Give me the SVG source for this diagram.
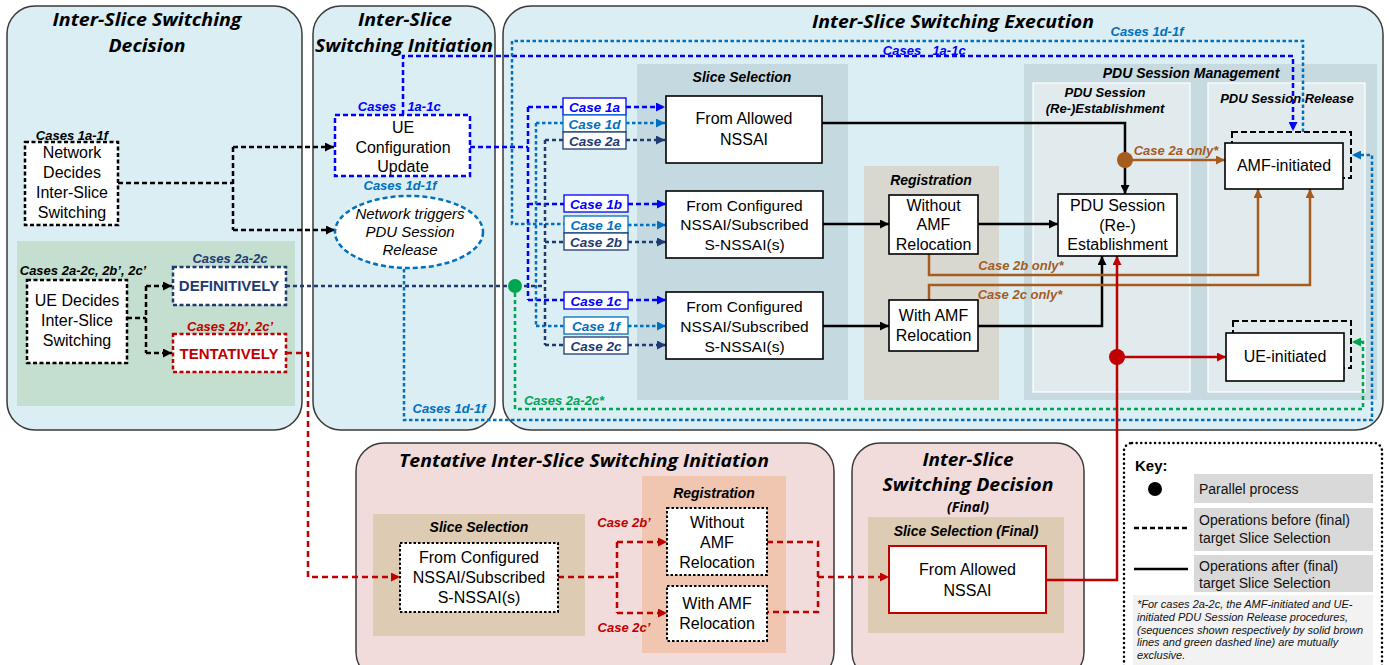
<svg xmlns="http://www.w3.org/2000/svg" width="1390" height="665" viewBox="0 0 1390 665">
<defs>
<style>
.panel{fill:#DAEEF3;stroke:#3A3A3A;stroke-width:1.5}
.pink{fill:#F2DCDB;stroke:#3A3A3A;stroke-width:1.5}
.title{font-family:"Open Sans","Liberation Sans",sans-serif;font-weight:bold;font-style:italic;font-size:17.5px;text-anchor:middle;fill:#000}
.sub{font-family:"Liberation Sans",Arial,sans-serif;font-weight:bold;font-style:italic;font-size:14px;text-anchor:middle;fill:#000}
.sub13{font-family:"Liberation Sans",Arial,sans-serif;font-weight:bold;font-style:italic;font-size:13px;text-anchor:middle;fill:#000}
.body{font-family:"Liberation Sans",Arial,sans-serif;font-size:16px;text-anchor:middle;fill:#000}
.lbl{font-family:"Liberation Sans",Arial,sans-serif;font-weight:bold;font-style:italic;font-size:13px;text-anchor:middle}
.case{font-family:"Liberation Sans",Arial,sans-serif;font-weight:bold;font-style:italic;font-size:13.5px;text-anchor:middle}
.key{font-family:"Liberation Sans",Arial,sans-serif;font-size:14px;fill:#111}
.note{font-family:"Liberation Sans",Arial,sans-serif;font-style:italic;font-size:11px;fill:#111}
.box{fill:#fff;stroke:#000;stroke-width:1.6}
.dbox{fill:#fff;stroke:#000;stroke-width:2;stroke-dasharray:2.5 2}
.ln{fill:none;stroke-width:2.5}
.k{stroke:#000}
.kd{stroke:#000;stroke-dasharray:5 3}
.b{stroke:#0000FF;stroke-dasharray:5 3}
.m{stroke:#0070C0;stroke-dasharray:3.5 2.5}
.n{stroke:#203A72;stroke-dasharray:4 3}
.r{stroke:#C00000;stroke-dasharray:6 4}
.rs{stroke:#C00000}
.br{stroke:#A65B1F}
.g{stroke:#00A550;stroke-dasharray:4 3}
</style>
<marker id="ak" viewBox="0 0 10 10" refX="10" refY="5" markerWidth="10" markerHeight="9" markerUnits="userSpaceOnUse" orient="auto"><path d="M0,0L10,5L0,10z" fill="#000"/></marker>
<marker id="ab" viewBox="0 0 10 10" refX="10" refY="5" markerWidth="10" markerHeight="9" markerUnits="userSpaceOnUse" orient="auto"><path d="M0,0L10,5L0,10z" fill="#0000FF"/></marker>
<marker id="am" viewBox="0 0 10 10" refX="10" refY="5" markerWidth="10" markerHeight="9" markerUnits="userSpaceOnUse" orient="auto"><path d="M0,0L10,5L0,10z" fill="#0070C0"/></marker>
<marker id="an" viewBox="0 0 10 10" refX="10" refY="5" markerWidth="10" markerHeight="9" markerUnits="userSpaceOnUse" orient="auto"><path d="M0,0L10,5L0,10z" fill="#203A72"/></marker>
<marker id="ar" viewBox="0 0 10 10" refX="10" refY="5" markerWidth="10" markerHeight="9" markerUnits="userSpaceOnUse" orient="auto"><path d="M0,0L10,5L0,10z" fill="#C00000"/></marker>
<marker id="abr" viewBox="0 0 10 10" refX="10" refY="5" markerWidth="10" markerHeight="9" markerUnits="userSpaceOnUse" orient="auto"><path d="M0,0L10,5L0,10z" fill="#A65B1F"/></marker>
<marker id="ag" viewBox="0 0 10 10" refX="10" refY="5" markerWidth="10" markerHeight="9" markerUnits="userSpaceOnUse" orient="auto"><path d="M0,0L10,5L0,10z" fill="#00A550"/></marker>
</defs>
<rect width="1390" height="665" fill="#fff"/>

<!-- Panels -->
<g id="panel-decision">
<rect class="panel" x="7" y="6" width="295" height="424" rx="28"/>
<text class="title" x="147" y="26" textLength="189" lengthAdjust="spacingAndGlyphs">Inter-Slice Switching</text>
<text class="title" x="147" y="52" textLength="77" lengthAdjust="spacingAndGlyphs">Decision</text>
<rect x="17" y="241" width="278" height="165" fill="#C4DFCF"/>
</g>
<g id="panel-initiation">
<rect class="panel" x="313" y="6" width="182" height="424" rx="28"/>
<text class="title" x="405" y="26" textLength="94" lengthAdjust="spacingAndGlyphs">Inter-Slice</text>
<text class="title" x="404" y="52" textLength="178" lengthAdjust="spacingAndGlyphs">Switching Initiation</text>
</g>
<g id="panel-execution">
<rect class="panel" x="503" y="6" width="880" height="424" rx="28"/>
<text class="title" x="953" y="28" textLength="282" lengthAdjust="spacingAndGlyphs">Inter-Slice Switching Execution</text>
<rect x="637" y="64" width="211" height="336" fill="#C5D9E0"/>
<text class="sub" x="742" y="82">Slice Selection</text>
<rect x="864" y="166" width="135" height="234" fill="#D9D8D0"/>
<text class="sub" x="931" y="185">Registration</text>
<rect x="1024" y="64" width="353" height="336" fill="#C6DAE0"/>
<text class="sub" x="1191" y="78">PDU Session Management</text>
<rect x="1033" y="83" width="157" height="309" fill="#E1EBEE" stroke="#fff" stroke-width="1.2"/>
<text class="sub13" x="1105" y="97">PDU Session</text>
<text class="sub13" x="1105" y="113">(Re-)Establishment</text>
<rect x="1208" y="83" width="157" height="309" fill="#E1EBEE" stroke="#fff" stroke-width="1.2"/>
<text class="sub13" x="1287" y="103">PDU Session Release</text>
</g>
<g id="panel-tentative">
<rect class="pink" x="356" y="443" width="478" height="237" rx="28"/>
<text class="title" x="584" y="467" textLength="370" lengthAdjust="spacingAndGlyphs">Tentative Inter-Slice Switching Initiation</text>
<rect x="373" y="514" width="212" height="122" fill="#DDCBB3"/>
<text class="sub" x="479" y="532">Slice Selection</text>
<rect x="642" y="476" width="144" height="177" fill="#F0C6B0"/>
<text class="sub" x="714" y="498">Registration</text>
</g>
<g id="panel-final">
<rect class="pink" x="852" y="443" width="232" height="237" rx="28"/>
<text class="title" x="968" y="466" textLength="91" lengthAdjust="spacingAndGlyphs">Inter-Slice</text>
<text class="title" x="968" y="491" textLength="171" lengthAdjust="spacingAndGlyphs">Switching Decision</text>
<text class="title" x="968" y="512" style="font-size:14px" textLength="42" lengthAdjust="spacingAndGlyphs">(Final)</text>
<rect x="868" y="517" width="196" height="116" fill="#DDCBB3"/>
<text class="sub" x="966" y="536">Slice Selection (Final)</text>
</g>

<!-- Connectors -->
<g id="connectors">
<path class="ln kd" d="M118,183H233M233,147V230"/>
<path class="ln kd" d="M233,147H334" marker-end="url(#ak)"/>
<path class="ln kd" d="M233,230H335" marker-end="url(#ak)"/>
<path class="ln kd" d="M127,318H146M146,286V353"/>
<path class="ln kd" d="M146,286H172" marker-end="url(#ak)"/>
<path class="ln kd" d="M146,353H172" marker-end="url(#ak)"/>
<path class="ln b" d="M403,115V56H1293V131" marker-end="url(#ab)"/>
<path class="ln b" d="M470,147H528M528,107V300M528,107H563M528,204H564M528,300H564"/>
<path class="ln m" d="M1303,132V41H512V224H564"/>
<path class="ln m" d="M536,123V326M536,123H563M536,326H564"/>
<path class="ln m" d="M404,269V420H1372V155H1352" marker-end="url(#am)"/>
<path class="ln n" d="M286,286H545M545,140V345M545,140H563M545,242H564M545,345H564"/>
<path class="ln g" d="M515,286V409H1363V342H1352" marker-end="url(#ag)"/>
<circle cx="515" cy="286" r="7" fill="#00A550"/>
<path class="ln b" d="M626,107H665" marker-end="url(#ab)"/>
<path class="ln m" d="M626,123H665" marker-end="url(#am)"/>
<path class="ln n" d="M626,140H665" marker-end="url(#an)"/>
<path class="ln b" d="M628,204H666" marker-end="url(#ab)"/>
<path class="ln m" d="M628,225H666" marker-end="url(#am)"/>
<path class="ln n" d="M628,242H666" marker-end="url(#an)"/>
<path class="ln b" d="M628,300H666" marker-end="url(#ab)"/>
<path class="ln m" d="M628,326H666" marker-end="url(#am)"/>
<path class="ln n" d="M628,345H666" marker-end="url(#an)"/>
<path class="ln k" d="M822,123H1125V194" marker-end="url(#ak)"/>
<path class="ln k" d="M823,224H889" marker-end="url(#ak)"/>
<path class="ln k" d="M823,326H889" marker-end="url(#ak)"/>
<path class="ln k" d="M978,224H1058" marker-end="url(#ak)"/>
<path class="ln k" d="M978,326H1102V256" marker-end="url(#ak)"/>
<path class="ln br" d="M1125,160H1225" marker-end="url(#abr)"/>
<circle cx="1125" cy="160" r="8" fill="#A65B1F"/>
<path class="ln br" d="M929,254V275H1258V189" marker-end="url(#abr)"/>
<path class="ln br" d="M929,300V285H1310V189" marker-end="url(#abr)"/>
<path class="ln r" d="M286,353H308V577H400" marker-end="url(#ar)"/>
<path class="ln r" d="M558,577H617M617,542V613"/>
<path class="ln r" d="M617,542H667" marker-end="url(#ar)"/>
<path class="ln r" d="M617,613H667" marker-end="url(#ar)"/>
<path class="ln r" d="M767,542H818V612H767M818,577H889" marker-end="url(#ar)"/>
<path class="ln rs" d="M1046,580H1117V256" marker-end="url(#ar)"/>
<path class="ln rs" d="M1117,357H1226" marker-end="url(#ar)"/>
<circle cx="1117" cy="357" r="8" fill="#C00000"/>
<text class="lbl" x="377" y="111" fill="#0000FF">Cases</text>
<text class="lbl" x="424" y="111" fill="#0000FF">1a-1c</text>
<text class="lbl" x="902" y="55" fill="#0000FF">Cases</text>
<text class="lbl" x="949" y="55" fill="#0000FF">1a-1c</text>
<text class="lbl" x="400" y="190" fill="#0070C0">Cases 1d-1f</text>
<text class="lbl" x="1147" y="36" fill="#0070C0">Cases 1d-1f</text>
<text class="lbl" x="449" y="413" fill="#0070C0">Cases 1d-1f</text>
<text class="lbl" x="564" y="405" fill="#00A550">Cases 2a-2c*</text>
<text class="lbl" x="1176" y="155" fill="#A65B1F">Case 2a only*</text>
<text class="lbl" x="1021" y="270" fill="#A65B1F">Case 2b only*</text>
<text class="lbl" x="1020" y="299" fill="#A65B1F">Case 2c only*</text>
<text class="lbl" x="624" y="527" fill="#C00000">Case 2b’</text>
<text class="lbl" x="624" y="632" fill="#C00000">Case 2c’</text>
</g>

<!-- Nodes -->
<g id="network-decides">
<text class="lbl" x="72" y="140" fill="#000">Cases 1a-1f</text>
<rect x="25" y="142" width="93" height="83" fill="#fff" stroke="#000" stroke-width="2.5" stroke-dasharray="4 2.5"/>
<text class="body" x="72" y="158">Network</text>
<text class="body" x="72" y="178">Decides</text>
<text class="body" x="72" y="198">Inter-Slice</text>
<text class="body" x="72" y="218">Switching</text>
</g>
<g id="ue-decides">
<text class="lbl" x="83" y="275" fill="#000">Cases 2a-2c, 2b’, 2c’</text>
<rect x="27" y="280" width="100" height="83" fill="#fff" stroke="#000" stroke-width="2.5" stroke-dasharray="4 2.5"/>
<text class="body" x="77" y="306">UE Decides</text>
<text class="body" x="77" y="326">Inter-Slice</text>
<text class="body" x="77" y="346">Switching</text>
</g>
<g id="definitively">
<text class="lbl" x="230" y="263" fill="#203A72">Cases 2a-2c</text>
<rect x="173" y="267" width="113" height="38" fill="#fff" stroke="#203A72" stroke-width="2.5" stroke-dasharray="4 2.5"/>
<text x="229" y="291" style="font-family:'Liberation Sans',Arial,sans-serif;font-weight:bold;font-size:15px;text-anchor:middle" fill="#203A72">DEFINITIVELY</text>
</g>
<g id="tentatively">
<text class="lbl" x="230" y="331" fill="#C00000">Cases 2b’, 2c’</text>
<rect x="173" y="334" width="113" height="38" fill="#fff" stroke="#C00000" stroke-width="2.5" stroke-dasharray="4 2.5"/>
<text x="229" y="359" style="font-family:'Liberation Sans',Arial,sans-serif;font-weight:bold;font-size:15px;text-anchor:middle" fill="#C00000">TENTATIVELY</text>
</g>
<g id="ue-config-update">
<rect x="335" y="115" width="135" height="61" fill="#fff" stroke="#0000FF" stroke-width="2.5" stroke-dasharray="5 3"/>
<text class="body" x="403" y="133" fill="#0000FF">UE</text>
<text class="body" x="403" y="153" fill="#0000FF">Configuration</text>
<text class="body" x="403" y="172" fill="#0000FF">Update</text>
</g>
<g id="nw-triggers-release">
<ellipse cx="409" cy="232" rx="74" ry="36" fill="#fff" stroke="#0070C0" stroke-width="2.5" stroke-dasharray="5 3"/>
<text class="body" x="410" y="219" style="font-style:italic;font-size:15px" fill="#0070C0">Network triggers</text>
<text class="body" x="410" y="237" style="font-style:italic;font-size:15px" fill="#0070C0">PDU Session</text>
<text class="body" x="410" y="255" style="font-style:italic;font-size:15px" fill="#0070C0">Release</text>
</g>
<g id="case-labels">
<rect x="563" y="98" width="63" height="17" fill="#fff" stroke="#0000FF" stroke-width="1.3"/>
<text class="case" x="594.5" y="111.5" fill="#0000FF">Case 1a</text>
<rect x="563" y="115" width="63" height="17" fill="#fff" stroke="#0070C0" stroke-width="1.3"/>
<text class="case" x="594.5" y="128.5" fill="#0070C0">Case 1d</text>
<rect x="563" y="132" width="63" height="17" fill="#fff" stroke="#203A72" stroke-width="1.3"/>
<text class="case" x="594.5" y="145.5" fill="#203A72">Case 2a</text>
<rect x="564" y="195" width="64" height="17" fill="#fff" stroke="#0000FF" stroke-width="1.3"/>
<text class="case" x="596" y="208.5" fill="#0000FF">Case 1b</text>
<rect x="564" y="216" width="64" height="17" fill="#fff" stroke="#0070C0" stroke-width="1.3"/>
<text class="case" x="596" y="229.5" fill="#0070C0">Case 1e</text>
<rect x="564" y="233" width="64" height="17" fill="#fff" stroke="#203A72" stroke-width="1.3"/>
<text class="case" x="596" y="246.5" fill="#203A72">Case 2b</text>
<rect x="564" y="292" width="64" height="17" fill="#fff" stroke="#0000FF" stroke-width="1.3"/>
<text class="case" x="596" y="305.5" fill="#0000FF">Case 1c</text>
<rect x="564" y="317" width="64" height="17" fill="#fff" stroke="#0070C0" stroke-width="1.3"/>
<text class="case" x="596" y="330.5" fill="#0070C0">Case 1f</text>
<rect x="564" y="337" width="64" height="17" fill="#fff" stroke="#203A72" stroke-width="1.3"/>
<text class="case" x="596" y="350.5" fill="#203A72">Case 2c</text>
</g>
<g id="from-allowed">
<rect class="box" x="666" y="96" width="156" height="67"/>
<text class="body" x="744" y="124">From Allowed</text>
<text class="body" x="744" y="145">NSSAI</text>
</g>
<g id="from-configured-1">
<rect class="box" x="666" y="191" width="157" height="67"/>
<text class="body" x="744.5" y="211" style="font-size:15.5px">From Configured</text>
<text class="body" x="744.5" y="230" style="font-size:15.5px">NSSAI/Subscribed</text>
<text class="body" x="744.5" y="250" style="font-size:15.5px">S-NSSAI(s)</text>
</g>
<g id="from-configured-2">
<rect class="box" x="666" y="292" width="157" height="67"/>
<text class="body" x="744.5" y="312" style="font-size:15.5px">From Configured</text>
<text class="body" x="744.5" y="332" style="font-size:15.5px">NSSAI/Subscribed</text>
<text class="body" x="744.5" y="352" style="font-size:15.5px">S-NSSAI(s)</text>
</g>
<g id="without-amf">
<rect class="box" x="889" y="195" width="89" height="59"/>
<text class="body" x="933.5" y="211">Without</text>
<text class="body" x="933.5" y="230">AMF</text>
<text class="body" x="933.5" y="250">Relocation</text>
</g>
<g id="with-amf">
<rect class="box" x="889" y="300" width="89" height="51"/>
<text class="body" x="933.5" y="321">With AMF</text>
<text class="body" x="933.5" y="341">Relocation</text>
</g>
<g id="pdu-establishment">
<rect class="box" x="1058" y="194" width="119" height="62"/>
<text class="body" x="1117.5" y="211">PDU Session</text>
<text class="body" x="1117.5" y="231">(Re-)</text>
<text class="body" x="1117.5" y="250">Establishment</text>
</g>
<g id="amf-initiated">
<rect x="1232" y="132" width="119" height="46" fill="none" stroke="#000" stroke-width="2" stroke-dasharray="6 3"/>
<rect class="box" x="1225" y="143" width="118" height="46" stroke-width="2"/>
<text class="body" x="1284" y="171">AMF-initiated</text>
</g>
<g id="ue-initiated">
<rect x="1233" y="321" width="118" height="47" fill="none" stroke="#000" stroke-width="2" stroke-dasharray="6 3"/>
<rect class="box" x="1226" y="333" width="118" height="48" stroke-width="2"/>
<text class="body" x="1285" y="362">UE-initiated</text>
</g>
<g id="tent-from-configured">
<rect class="dbox" x="400" y="543" width="158" height="69"/>
<text class="body" x="479" y="563">From Configured</text>
<text class="body" x="479" y="583">NSSAI/Subscribed</text>
<text class="body" x="479" y="603">S-NSSAI(s)</text>
</g>
<g id="tent-without-amf">
<rect class="dbox" x="667" y="508" width="100" height="67"/>
<text class="body" x="717" y="528">Without</text>
<text class="body" x="717" y="548">AMF</text>
<text class="body" x="717" y="568">Relocation</text>
</g>
<g id="tent-with-amf">
<rect class="dbox" x="667" y="586" width="100" height="55"/>
<text class="body" x="717" y="609">With AMF</text>
<text class="body" x="717" y="629">Relocation</text>
</g>
<g id="final-from-allowed">
<rect x="889" y="546" width="157" height="67" fill="#fff" stroke="#C00000" stroke-width="2"/>
<text class="body" x="967.5" y="575">From Allowed</text>
<text class="body" x="967.5" y="596">NSSAI</text>
</g>

<!-- Key -->
<g id="key">
<rect x="1124" y="443" width="258" height="240" rx="8" fill="#fff" stroke="#000" stroke-width="2.5" stroke-dasharray="0.1 4.5" stroke-linecap="round"/>
<text x="1135" y="471" style="font-family:'Liberation Sans',Arial,sans-serif;font-weight:bold;font-size:15px">Key:</text>
<circle cx="1155" cy="489" r="7" fill="#000"/>
<rect x="1194" y="474" width="179" height="29" fill="#D9D9D9"/>
<text class="key" x="1199" y="494">Parallel process</text>
<line x1="1134" y1="528" x2="1189" y2="528" stroke="#000" stroke-width="2.5" stroke-dasharray="5 3"/>
<rect x="1194" y="508" width="179" height="43" fill="#D9D9D9"/>
<text class="key" x="1199" y="525">Operations before (final)</text>
<text class="key" x="1199" y="543">target Slice Selection</text>
<line x1="1134" y1="569" x2="1188" y2="569" stroke="#000" stroke-width="2.5"/>
<rect x="1194" y="555" width="179" height="37" fill="#D9D9D9"/>
<text class="key" x="1199" y="571">Operations after (final)</text>
<text class="key" x="1199" y="588">target Slice Selection</text>
<rect x="1133" y="595" width="240" height="75" fill="#F2F2F2"/>
<text class="note" x="1137" y="608">*For cases 2a-2c, the AMF-initiated and UE-</text>
<text class="note" x="1137" y="621">initiated PDU Session Release procedures,</text>
<text class="note" x="1137" y="634">(sequences shown respectively by solid brown</text>
<text class="note" x="1137" y="646">lines and green dashed line) are mutually</text>
<text class="note" x="1137" y="659">exclusive.</text>
</g>
</svg>
